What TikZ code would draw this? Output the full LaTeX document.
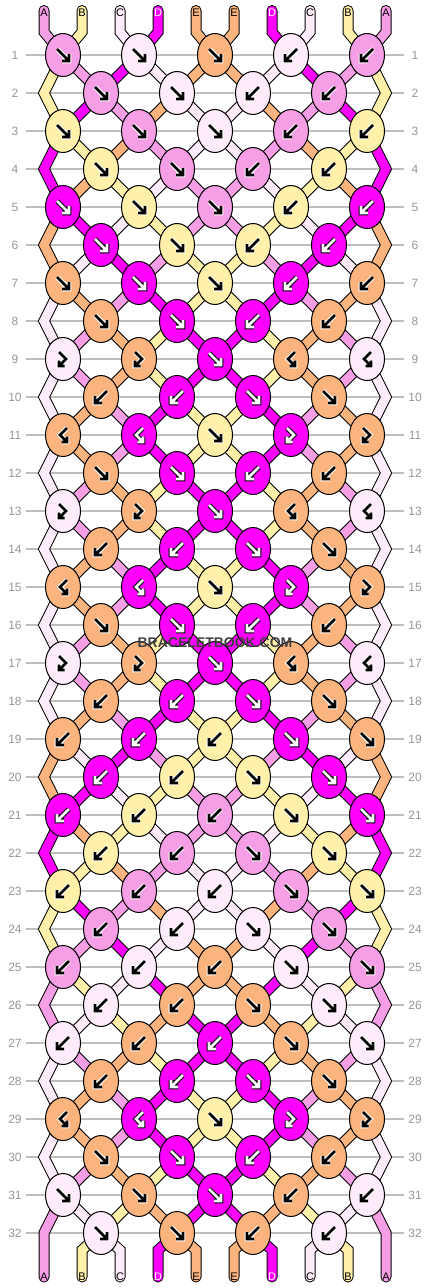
\documentclass[tikz,border=0pt]{standalone}
\usepackage{fontspec}
\setmainfont{Liberation Sans}
\usetikzlibrary{shapes.geometric}
\definecolor{cA}{RGB}{246,158,230}
\definecolor{cB}{RGB}{255,240,170}
\definecolor{cC}{RGB}{255,236,250}
\definecolor{cD}{RGB}{255,0,255}
\definecolor{cE}{RGB}{251,180,126}
\definecolor{rowgray}{RGB}{190,190,190}
\definecolor{lblgray}{RGB}{150,150,150}
\definecolor{wmgray}{RGB}{64,64,64}
\def\sideF{0}\def\sideB{1}\def\sideP{0}\def\sideQ{1}
\def\tcA{black}\def\tcB{black}\def\tcC{black}\def\tcD{white}\def\tcE{black}
\def\letterD{D}
\newcommand\mkband[2]{\edef\bandcol{c#1}\draw[bandout] #2;\draw[bandin,draw=\bandcol] #2;}
\newcommand\gF[1]{\draw[#1] (-6,-6) -- (6,6) (6,-1) -- (6,6) -- (-1,6);}
\newcommand\gB[1]{\draw[#1] (6,-6) -- (-6,6) (-6,-1) -- (-6,6) -- (1,6);}
\newcommand\gP[1]{\draw[#1] (-4,-7) -- (3,0) -- (-4,7) (-4,1.5) -- (-4,7) -- (1.5,7);}
\newcommand\gQ[1]{\draw[#1] (4,-7) -- (-3,0) -- (4,7) (4,1.5) -- (4,7) -- (-1.5,7);}
\begin{document}
\begin{tikzpicture}[x=1pt,y=-1pt,
  bandout/.style={line width=11pt,draw=black,line cap=round,line join=miter},
  bandin/.style={line width=9pt,line cap=round,line join=miter},
  knot/.style={ellipse,draw=black,line width=1pt,minimum width=35pt,minimum height=43pt,inner sep=0pt},
  rowline/.style={draw=rowgray,line width=1.3pt},
  rowlbl/.style={text=lblgray,font=\fontsize{12}{12}\selectfont,inner sep=0pt},
  strlbl/.style={font=\fontsize{11}{11}\selectfont,inner sep=0pt},
  wm/.style={font=\fontsize{14}{14}\selectfont\bfseries,inner sep=0pt}]
\fill[white] (0,0) rectangle (430,1288);
\useasboundingbox (0,0) rectangle (430,1288);
% thread states after each row
\foreach \st [count=\rr from 0] in {
 {A,B,C,D,E,E,D,C,B,A},{B,A,D,C,E,E,C,D,A,B},{B,D,A,E,C,C,E,A,D,B},{D,B,E,A,C,C,A,E,B,D},
 {D,E,B,C,A,A,C,B,E,D},{E,D,C,B,A,A,B,C,D,E},{E,C,D,A,B,B,A,D,C,E},{C,E,A,D,B,B,D,A,E,C},
 {C,A,E,B,D,D,B,E,A,C},{C,A,E,B,D,D,B,E,A,C},{C,E,A,D,B,B,D,A,E,C},{C,E,A,D,B,B,D,A,E,C},
 {C,A,E,B,D,D,B,E,A,C},{C,A,E,B,D,D,B,E,A,C},{C,E,A,D,B,B,D,A,E,C},{C,E,A,D,B,B,D,A,E,C},
 {C,A,E,B,D,D,B,E,A,C},{C,A,E,B,D,D,B,E,A,C},{C,E,A,D,B,B,D,A,E,C},{E,C,D,A,B,B,A,D,C,E},
 {E,D,C,B,A,A,B,C,D,E},{D,E,B,C,A,A,C,B,E,D},{D,B,E,A,C,C,A,E,B,D},{B,D,A,E,C,C,E,A,D,B},
 {B,A,D,C,E,E,C,D,A,B},{A,B,C,D,E,E,D,C,B,A},{A,C,B,E,D,D,E,B,C,A},{C,A,E,B,D,D,B,E,A,C},
 {C,E,A,D,B,B,D,A,E,C},{C,E,A,D,B,B,D,A,E,C},{C,A,E,B,D,D,B,E,A,C},{A,C,B,E,D,D,E,B,C,A},
 {A,B,C,D,E,E,D,C,B,A}}
{\foreach \cc [count=\ii from 0] in \st {\expandafter\xdef\csname st-\rr-\ii\endcsname{\cc}}}
% positions
\foreach \rr in {1,...,32}{
  \foreach \ii in {0,...,9}{
    \ifodd\rr\relax
      \ifodd\ii\relax\def\off{-19}\else\def\off{19}\fi
    \else
      \ifnum\ii=0\relax\def\off{0}\else\ifnum\ii=9\relax\def\off{0}\else
        \ifodd\ii\relax\def\off{19}\else\def\off{-19}\fi\fi\fi
    \fi
    \pgfmathsetmacro\px{44+38*\ii+\off}
    \pgfmathsetmacro\py{55+38*(\rr-1)}
    \coordinate (p-\rr-\ii) at (\px,\py);
  }
}
% row lines and numbers
\foreach \rr in {1,...,32}{
  \pgfmathsetmacro\py{55+38*(\rr-1)}
  \coordinate (gl-\rr) at (26,\py);
  \coordinate (gr-\rr) at (404,\py);
  \draw[rowline] (gl-\rr) -- (gr-\rr);
  \node[rowlbl] (ll-\rr) at (15,\py) {\rr};
  \node[rowlbl] (rl-\rr) at (415,\py) {\rr};
}
% inner thread segments
\foreach \rr in {1,...,31}{
  \foreach \ii in {1,...,8}{
    \pgfmathtruncatemacro\rn{\rr+1}
    \edef\col{\csname st-\rr-\ii\endcsname}
    \mkband{\col}{(p-\rr-\ii) -- (p-\rn-\ii)}
  }
}
% edge zigzags
\foreach \rr in {2,4,...,30}{
  \pgfmathtruncatemacro\rp{\rr-1}
  \pgfmathtruncatemacro\rn{\rr+1}
  \edef\col{\csname st-\rr-0\endcsname}
  \mkband{\col}{(p-\rp-0) -- (p-\rr-0) -- (p-\rn-0)}
  \edef\col{\csname st-\rr-9\endcsname}
  \mkband{\col}{(p-\rp-9) -- (p-\rr-9) -- (p-\rn-9)}
}
% top threads
\foreach \ii in {0,...,9}{
  \pgfmathsetmacro\xx{44+38*\ii}
  \coordinate (t-\ii) at (\xx,10.5);
  \coordinate (tb-\ii) at (\xx,32);
  \edef\col{\csname st-0-\ii\endcsname}
  \edef\tc{\csname tc\col\endcsname}
  \mkband{\col}{(t-\ii) -- (tb-\ii) -- (p-1-\ii)}
  \node[strlbl,text=\tc] (tl-\ii) at (\xx,12.5) {\col};
}
% bottom threads
\foreach \ii in {0,...,9}{
  \pgfmathsetmacro\xx{44+38*\ii}
  \coordinate (bb-\ii) at (\xx,1250);
  \coordinate (b-\ii) at (\xx,1277);
  \edef\col{\csname st-32-\ii\endcsname}
  \edef\tc{\csname tc\col\endcsname}
  \ifnum\ii=0\relax
    \mkband{\col}{(p-31-0) -- (p-32-0) -- (b-0)}
  \else\ifnum\ii=9\relax
    \mkband{\col}{(p-31-9) -- (p-32-9) -- (b-9)}
  \else
    \mkband{\col}{(p-32-\ii) -- (bb-\ii) -- (b-\ii)}
  \fi\fi
  \node[strlbl,text=\tc] (bl-\ii) at (\xx,1276.5) {\col};
}
% knots
\foreach \tl [count=\rr] in {
 {F,F,F,B,B},{F,F,B,B},{F,F,F,B,B},{F,F,B,B},{F,F,F,B,B},{F,F,B,B},{F,F,F,B,B},{F,F,B,B},
 {P,P,F,Q,Q},{B,B,F,F},{Q,Q,F,P,P},{F,F,B,B},{P,P,F,Q,Q},{B,B,F,F},{Q,Q,F,P,P},{F,F,B,B},
 {P,P,F,Q,Q},{B,B,F,F},{B,B,B,F,F},{B,B,F,F},{B,B,B,F,F},{B,B,F,F},{B,B,B,F,F},{B,B,F,F},
 {B,B,B,F,F},{B,B,F,F},{B,B,B,F,F},{B,B,F,F},{Q,Q,F,P,P},{F,F,B,B},{F,F,F,B,B},{F,F,B,B}}
{
  \pgfmathtruncatemacro\rp{\rr-1}
  \foreach \ty [count=\jj from 0] in \tl {
    \ifodd\rr\relax
      \pgfmathtruncatemacro\il{2*\jj}
    \else
      \pgfmathtruncatemacro\il{2*\jj+1}
    \fi
    \edef\sd{\csname side\ty\endcsname}
    \pgfmathtruncatemacro\ic{\il+\sd}
    \edef\kc{\csname st-\rp-\ic\endcsname}
    \edef\kcol{c\kc}
    \ifx\kc\letterD\def\fgc{white}\def\haloc{black}\else\def\fgc{black}\def\haloc{white}\fi
    \node[knot,fill=\kcol] (k-\rr-\jj) at (p-\rr-\il) {};
    \begin{scope}[shift={(k-\rr-\jj.center)}]
      \csname g\ty\endcsname{line width=4.8pt,draw=\haloc,line join=miter}
      \csname g\ty\endcsname{line width=2.6pt,draw=\fgc,line join=miter}
    \end{scope}
  }
}
% watermark
\node[wm,text=wmgray] (wm) at (215,643) {BRACELETBOOK.COM};
\end{tikzpicture}
\end{document}
